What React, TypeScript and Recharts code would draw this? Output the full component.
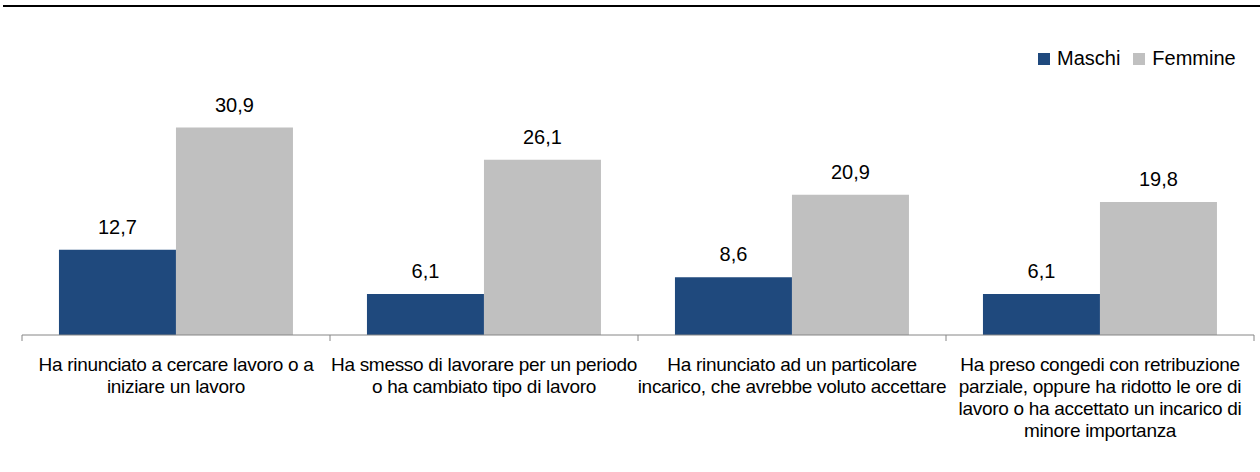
import React from "react";
import { BarChart, Bar, XAxis, YAxis, Legend, LabelList } from "recharts";

const categories = [
  "Ha rinunciato a cercare lavoro o a\niniziare un lavoro",
  "Ha smesso di lavorare per un periodo\no ha cambiato tipo di lavoro",
  "Ha rinunciato ad un particolare\nincarico, che avrebbe voluto accettare",
  "Ha preso congedi con retribuzione\nparziale, oppure ha ridotto le ore di\nlavoro o ha accettato un incarico di\nminore importanza",
];
const maschi = [12.7, 6.1, 8.6, 6.1];
const femmine = [30.9, 26.1, 20.9, 19.8];
const seriesNames = ["Maschi", "Femmine"];
const seriesColors = ["#1F497D", "#C0C0C0"];

const data = categories.map((c, i) => ({ cat: c, maschi: maschi[i], femmine: femmine[i] }));

const FONT = "'Liberation Sans', Arial, sans-serif";
const fmt = (v: any) => Number(v).toFixed(1).replace(".", ",");

const CatTick = (props: any) => {
  const { x, y, payload, index, width, visibleTicksCount } = props;
  const half = payload && payload.offset ? payload.offset : width / visibleTicksCount / 2;
  const lines = String(payload.value).split("\n");
  const last = index === visibleTicksCount - 1;
  return (
    <g>
      <line x1={x - half} x2={x - half} y1={y} y2={y + 6} stroke="#868686" strokeWidth={1} />
      {last && <line x1={x + half} x2={x + half} y1={y} y2={y + 6} stroke="#868686" strokeWidth={1} />}
      <text
        x={x}
        y={y}
        textAnchor="middle"
        fill="#000"
        style={{ fontFamily: FONT, fontSize: 19, letterSpacing: -0.3 }}
      >
        {lines.map((l, i) => (
          <tspan key={i} x={x} y={y + 36 + i * 22}>
            {l}
          </tspan>
        ))}
      </text>
    </g>
  );
};

const LegendContent = () => (
  <div style={{ display: "flex", alignItems: "center", fontFamily: FONT, fontSize: 20, color: "#000", whiteSpace: "nowrap" }}>
    {seriesNames.map((n, i) => (
      <div key={n} style={{ display: "flex", alignItems: "center", marginRight: i === 0 ? 13 : 0 }}>
        <span style={{ display: "inline-block", width: 12, height: 12, background: seriesColors[i], marginRight: 7 }} />
        <span>{n}</span>
      </div>
    ))}
  </div>
);

export default function App() {
  return (
    <div style={{ position: "absolute", left: 0, top: 0, width: 1260, height: 472, background: "#fff", fontFamily: FONT }}>
      <div style={{ position: "absolute", left: 3, top: 5, width: 1257, height: 2, background: "#000" }} />
      <BarChart
        width={1260}
        height={472}
        data={data}
        margin={{ top: 100, right: 6, left: 22, bottom: 0 }}
        barCategoryGap="12%"
        barGap={0}
      >
        <XAxis
          dataKey="cat"
          height={137}
          interval={0}
          tickLine={false}
          tickSize={0}
          tickMargin={0}
          axisLine={{ stroke: "#868686", strokeWidth: 1 }}
          tick={<CatTick />}
        />
        <YAxis hide width={0} domain={[0, 35]} />
        <Legend
          layout="horizontal"
          verticalAlign="middle"
          align="center"
          content={<LegendContent />}
          wrapperStyle={{ position: "absolute", top: 47, left: 1038, right: "auto", width: "auto", bottom: "auto" }}
        />
        <Bar dataKey="maschi" name="Maschi" fill={seriesColors[0]} isAnimationActive={false}>
          <LabelList dataKey="maschi" position="top" offset={16} formatter={fmt} fill="#000" fontSize={20} fontFamily={FONT} />
        </Bar>
        <Bar dataKey="femmine" name="Femmine" fill={seriesColors[1]} isAnimationActive={false}>
          <LabelList dataKey="femmine" position="top" offset={16} formatter={fmt} fill="#000" fontSize={20} fontFamily={FONT} />
        </Bar>
      </BarChart>
    </div>
  );
}
